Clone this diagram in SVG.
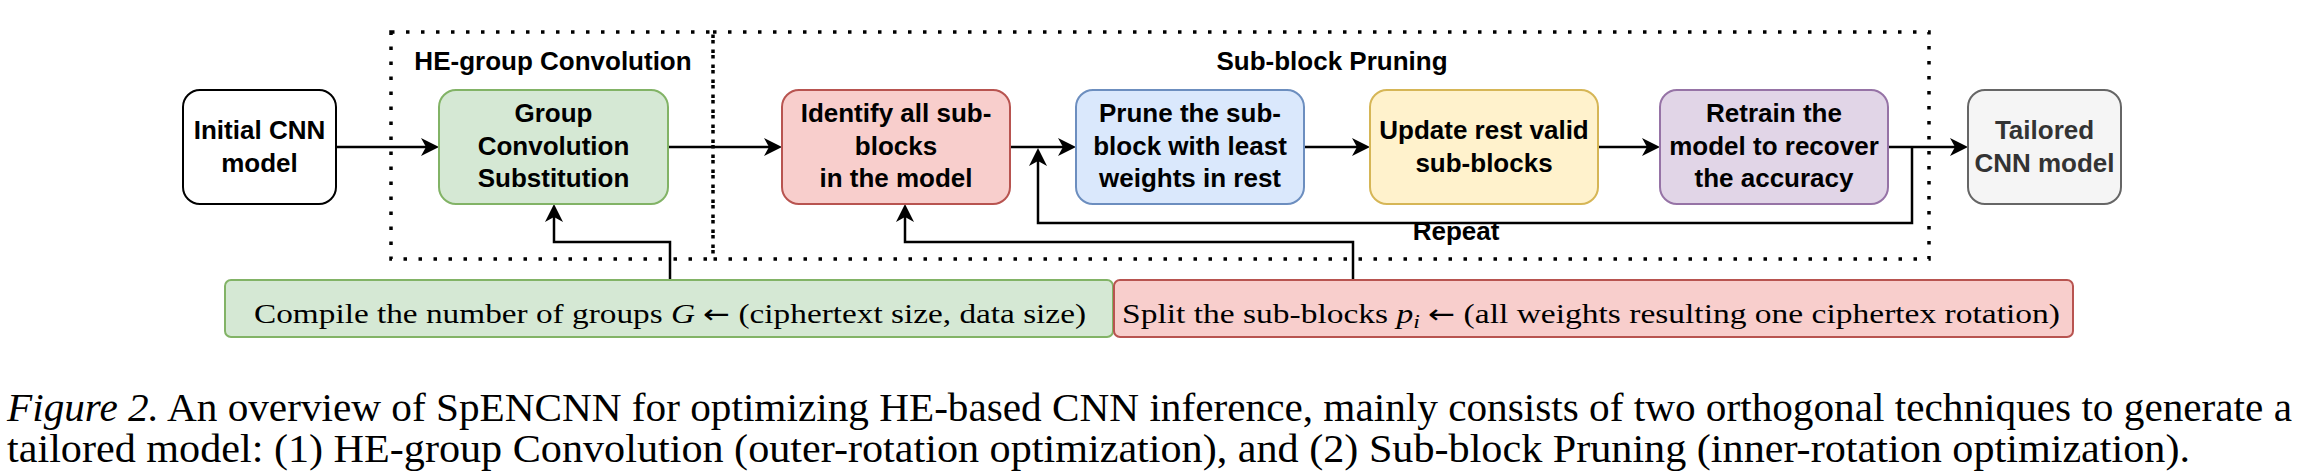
<svg xmlns="http://www.w3.org/2000/svg" width="2300" height="476" viewBox="0 0 2300 476">
<style>
.node rect{stroke-width:2}
.lbl{font-family:"Liberation Sans",Arial,sans-serif;font-weight:bold;font-size:26px;text-anchor:middle;fill:#000}
.tex{font-family:"Liberation Serif","Times New Roman",serif;font-size:27px;fill:#000}
.arw{font-family:"DejaVu Sans",sans-serif;font-size:26px}
.cap{font-family:"Liberation Serif","Times New Roman",serif;font-size:40px;fill:#000}
.conn path{fill:none;stroke:#000;stroke-width:2.5;marker-end:url(#arr)}
.dot{fill:none;stroke:#000;stroke-width:3.5;stroke-dasharray:3.5 11.5}
</style>
<defs>
<marker id="arr" markerUnits="userSpaceOnUse" markerWidth="18" markerHeight="18" viewBox="0 0 18 18" refX="13" refY="9" orient="auto">
<path d="M0,0 L18,9 L0,18 L5,9 Z" fill="#000"/>
</marker>
</defs>
<rect width="2300" height="476" fill="#fff"/>

<g id="group-he">
<rect class="dot" x="391" y="32" width="322" height="227"/>
<text class="lbl" x="553" y="70">HE-group Convolution</text>
</g>
<g id="group-subblock">
<rect class="dot" x="713" y="32" width="1216" height="227"/>
<text class="lbl" x="1332" y="70">Sub-block Pruning</text>
</g>

<g class="conn" id="connectors">
<path d="M336,147 L434,147"/>
<path d="M668,147 L777,147"/>
<path d="M1010,147 L1071,147"/>
<path d="M1304,147 L1365,147"/>
<path d="M1598,147 L1655,147"/>
<path d="M1888,147 L1963,147"/>
<path d="M1912,147 L1912,223 L1038,223 L1038,153"/>
<path d="M670,280 L670,242 L554,242 L554,209"/>
<path d="M1353,280 L1353,242 L905,242 L905,209"/>
<text class="lbl" x="1456" y="240">Repeat</text>
</g>

<g class="node" id="initial">
<rect x="183" y="90" width="153" height="114" rx="17" fill="#fff" stroke="#000" stroke-width="2.5"/>
<text class="lbl" x="259.5" y="139">Initial CNN</text>
<text class="lbl" x="259.5" y="172">model</text>
</g>
<g class="node" id="groupconv">
<rect x="439" y="90" width="229" height="114" rx="17" fill="#d5e8d4" stroke="#82b366"/>
<text class="lbl" x="553.5" y="122">Group</text>
<text class="lbl" x="553.5" y="155">Convolution</text>
<text class="lbl" x="553.5" y="187">Substitution</text>
</g>
<g class="node" id="identify">
<rect x="782" y="90" width="228" height="114" rx="17" fill="#f8cecc" stroke="#b85450"/>
<text class="lbl" x="896" y="122">Identify all sub-</text>
<text class="lbl" x="896" y="155">blocks</text>
<text class="lbl" x="896" y="187">in the model</text>
</g>
<g class="node" id="prune">
<rect x="1076" y="90" width="228" height="114" rx="17" fill="#dae8fc" stroke="#6c8ebf"/>
<text class="lbl" x="1190" y="122">Prune the sub-</text>
<text class="lbl" x="1190" y="155">block with least</text>
<text class="lbl" x="1190" y="187">weights in rest</text>
</g>
<g class="node" id="update">
<rect x="1370" y="90" width="228" height="114" rx="17" fill="#fff2cc" stroke="#d6b656"/>
<text class="lbl" x="1484" y="139">Update rest valid</text>
<text class="lbl" x="1484" y="172">sub-blocks</text>
</g>
<g class="node" id="retrain">
<rect x="1660" y="90" width="228" height="114" rx="17" fill="#e1d5e7" stroke="#9673a6"/>
<text class="lbl" x="1774" y="122">Retrain the</text>
<text class="lbl" x="1774" y="155">model to recover</text>
<text class="lbl" x="1774" y="187">the accuracy</text>
</g>
<g class="node" id="tailored">
<rect x="1968" y="90" width="153" height="114" rx="17" fill="#f5f5f5" stroke="#666666"/>
<text class="lbl" x="2044.5" y="139" style="fill:#333333">Tailored</text>
<text class="lbl" x="2044.5" y="172" style="fill:#333333">CNN model</text>
</g>

<g class="node" id="compile">
<rect x="225" y="280" width="888" height="57" rx="6" fill="#d5e8d4" stroke="#82b366"/>
<text class="tex" x="254" y="323" textLength="832" lengthAdjust="spacingAndGlyphs">Compile the number of groups <tspan font-style="italic">G</tspan> <tspan class="arw">←</tspan> (ciphertext size, data size)</text>
</g>
<g class="node" id="split">
<rect x="1114" y="280" width="959" height="57" rx="6" fill="#f8cecc" stroke="#b85450"/>
<text class="tex" x="1122" y="323" textLength="938" lengthAdjust="spacingAndGlyphs">Split the sub-blocks <tspan font-style="italic">p</tspan><tspan font-style="italic" font-size="19" dy="5">i</tspan><tspan dy="-5"> </tspan><tspan class="arw">←</tspan> (all weights resulting one ciphertex rotation)</text>
</g>

<g id="caption">
<text class="cap" x="7" y="421" textLength="2285" lengthAdjust="spacingAndGlyphs"><tspan font-style="italic">Figure 2.</tspan> An overview of SpENCNN for optimizing HE-based CNN inference, mainly consists of two orthogonal techniques to generate a</text>
<text class="cap" x="7" y="462" textLength="2183" lengthAdjust="spacingAndGlyphs">tailored model: (1) HE-group Convolution (outer-rotation optimization), and (2) Sub-block Pruning (inner-rotation optimization).</text>
</g>
</svg>
